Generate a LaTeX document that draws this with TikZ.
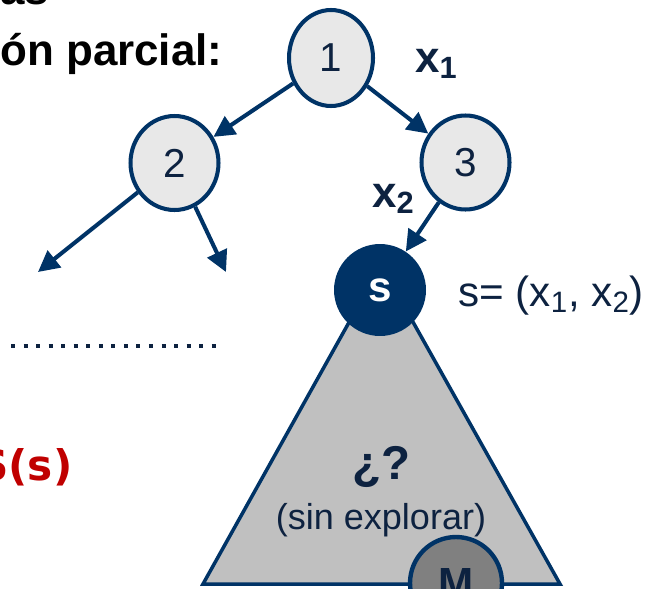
\documentclass[tikz,border=0pt]{standalone}
\usepackage{fontspec}
\setmainfont{Liberation Sans}
\newfontfamily\verdfont{DejaVu Sans}
\usetikzlibrary{arrows.meta,shapes.geometric}
\definecolor{navy}{RGB}{0,51,102}
\definecolor{inknavy}{RGB}{13,34,64}
\definecolor{nodegray}{RGB}{232,232,232}
\definecolor{treegray}{RGB}{192,192,192}
\definecolor{mgray}{RGB}{128,128,128}
\definecolor{slidered}{RGB}{192,0,0}
\tikzset{
  state/.style={ellipse, draw=navy, line width=2.3pt, fill=nodegray, inner sep=0pt,
    minimum width=1.76cm, minimum height=1.88cm, text=inknavy,
    font=\fontsize{23}{26}\selectfont},
  branch/.style={navy, line width=2.3pt, -{Triangle[length=12pt,width=12pt]}},
  edgelabel/.style={text=inknavy, anchor=base west, font=\bfseries\fontsize{25}{28}\selectfont},
}
\begin{document}
\begin{tikzpicture}[x=0.02cm, y=-0.02cm]
  \useasboundingbox (0,0) rectangle (651,588);
  \clip (0,0) rectangle (651,588);
  % Slide text on the left
  \node[anchor=base west, inner sep=0pt, font=\bfseries\fontsize{25}{28}\selectfont] (ttop) at (0,5) {as};
  \node[anchor=base west, inner sep=0pt, font=\bfseries\fontsize{25}{28}\selectfont] (title) at (0,66) {ón parcial:};
  \node[anchor=base west, inner sep=0pt, text=slidered, font=\verdfont\bfseries\fontsize{24}{28}\selectfont] (bound) at (-22,480) {S(s)};
  % Dotted line
  \draw[inknavy, line width=2.27pt, dash pattern=on 2.27pt off 4.87pt] (11,346) -- (218,346);
  % Unexplored subtree
  \filldraw[fill=treegray, draw=navy, line width=2pt] (381,265) -- (203,584) -- (560,584) -- cycle;
  \node[text=inknavy, font=\bfseries\fontsize{27}{30}\selectfont] (quest) at (381,467) {¿?};
  \node[text=inknavy, font=\fontsize{20.5}{24}\selectfont] (unexp) at (381,520) {(sin explorar)};
  % Tree nodes
  \node[state, minimum width=1.68cm, minimum height=1.92cm] (n1) at (331,58) {1};
  \node[state] (n2) at (174.5,163) {2};
  \node[state] (n3) at (465.5,162.5) {3};
  \node[circle, fill=navy, inner sep=0pt, minimum size=1.84cm, text=white,
    font=\bfseries\fontsize{24}{26}\selectfont] (ns) at (380,290) {s};
  \node[circle, fill=mgray, draw=navy, line width=2.5pt, inner sep=0pt, minimum size=1.84cm,
    text=inknavy, font=\bfseries\fontsize{24}{26}\selectfont] (nm) at (456,583) {M};
  \coordinate (c2l) at (38,272);
  \coordinate (c2r) at (226,272);
  % Branches
  \draw[branch] (n1) -- (n2);
  \draw[branch] (n1) -- (n3);
  \draw[branch] (n3) -- (ns);
  \draw[branch] (n2) -- (c2l);
  \draw[branch] (n2) -- (c2r);
  % Labels
  \node[edgelabel] (lx1) at (409,72) {x\textsubscript{1}};
  \node[edgelabel] (lx2) at (366,207) {x\textsubscript{2}};
  \node[anchor=base west, text=inknavy, font=\fontsize{24}{27}\selectfont] (sdef) at (452,306)
    {s= (x\textsubscript{1}, x\textsubscript{2})};
\end{tikzpicture}
\end{document}
